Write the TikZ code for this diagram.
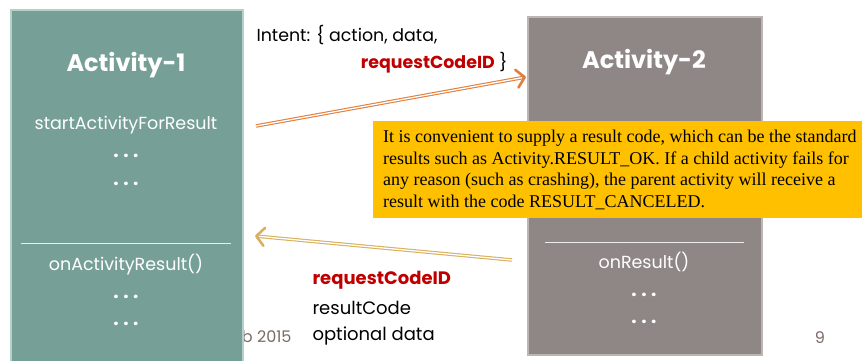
\documentclass[tikz,border=0pt]{standalone}
\usepackage{fontspec}
\setmainfont{Liberation Serif}
\newfontfamily\geofont{Poppins}
\usetikzlibrary{arrows.meta,positioning,calc}

\definecolor{tealbox}{HTML}{76A097}
\definecolor{tealedge}{HTML}{B3D1CA}
\definecolor{greybox}{HTML}{8F8785}
\definecolor{greyedge}{HTML}{BDB6B3}
\definecolor{noteyellow}{HTML}{FFC000}
\definecolor{codered}{HTML}{C00000}
\definecolor{fwdorange}{HTML}{E0803E}
\definecolor{backgold}{HTML}{D9B060}
\definecolor{footgrey}{HTML}{7A6A66}

\newcommand{\ellip}{.\hspace{4.5pt}.\hspace{4.5pt}.}

\begin{document}
\begin{tikzpicture}[x=1pt,y=-1pt,
	title/.style={text=white,font=\geofont\bfseries\fontsize{24}{28}\selectfont},
	method/.style={text=white,font=\geofont\fontsize{17.5}{20}\selectfont},
	dots/.style={text=white,anchor=base,font=\geofont\bfseries\fontsize{19}{20}\selectfont},
	label/.style={font=\geofont\fontsize{18}{21}\selectfont,anchor=west},
	divider/.style={white!85!gray,line width=0.8pt},
	shaft/.style={double=white,line width=1.1pt,double distance=1.3pt,shorten >=3pt},
	tip/.style={line width=2.6pt,line cap=round,-{Straight Barb[length=8pt,width=18pt,round]}}]
	\useasboundingbox (0,0) rectangle (863,360);
	% footer behind the left box
	\node (foot) [anchor=east,text=footgrey,font=\geofont\fontsize{16}{19}\selectfont] at (295,337) {Feb 2015};
	\node (page) [text=footgrey,font=\geofont\fontsize{16}{19}\selectfont] at (820,338) {9};

	% the two activities
	\node (act1) [fill=tealbox,draw=tealedge,line width=1.5pt,minimum width=232pt,minimum height=360pt,anchor=north west,inner sep=0pt] at (10,9) {};
	\node (act2) [fill=greybox,draw=greyedge,line width=1.5pt,minimum width=234pt,minimum height=338pt,anchor=north west,inner sep=0pt] at (527,16) {};

	\node (title1) [title] at (126,65) {Activity-1};
	\node (start1) [method] at (126,125) {startActivityForResult};
	\node (onres1) [method] at (126,265) {onActivityResult()};
	\draw[divider] (21,243) -- (231,243);

	\node (title2) [title] at (644,62) {Activity-2};
	\node (onres2) [method] at (644,262) {onResult()};
	\draw[divider] (545,242) -- (744,242);

	\foreach \y in {155,183,296,323} {
		\node (dotsA\y) [dots] at (126,\y+2) {\ellip};
	}
	\foreach \y in {294,321} {
		\node (dotsB\y) [dots] at (644,\y+2) {\ellip};
	}

	% intent going out
	\node (intent) [label,font=\geofont\fontsize{17.4}{21}\selectfont] at (253,35) {Intent: \{ action, data,};
	\node (reqcode) [label,anchor=east,font=\geofont\fontsize{17.4}{21}\selectfont] at (511,63) {\textcolor{codered}{\bfseries requestCodeID} \}};
	\coordinate (fwdtail) at (256,126);
	\coordinate (fwdhead) at (526,77);
	\draw[shaft,fwdorange] (fwdtail) -- (fwdhead);
	\draw[tip,fwdorange] ($(fwdhead)!2pt!(fwdtail)$) -- (fwdhead);

	% result coming back
	\coordinate (backtail) at (512,260);
	\coordinate (backhead) at (255,236);
	\draw[shaft,backgold] (backtail) -- (backhead);
	\draw[tip,backgold] ($(backhead)!2pt!(backtail)$) -- (backhead);
	\node (retcode) [label,text=codered,font=\geofont\bfseries\fontsize{18}{21}\selectfont] at (309,280) {requestCodeID};
	\node (retres) [label] at (309,308) {resultCode};
	\node (retdata) [label] at (309,336) {optional data};

	% note
	\node (note) [fill=noteyellow,anchor=north west,minimum width=489pt,minimum height=97pt,inner sep=0pt] at (373,121) {};
	\node (notetext) [anchor=north west,align=left,font=\fontsize{18}{21.5}\selectfont,inner sep=0pt] at (383,130) {It is convenient to supply a result code, which can be the standard\\results such as Activity.RESULT\_OK. If a child activity fails for\\any reason (such as crashing), the parent activity will receive a\\result with the code RESULT\_CANCELED.};
\end{tikzpicture}
\end{document}
